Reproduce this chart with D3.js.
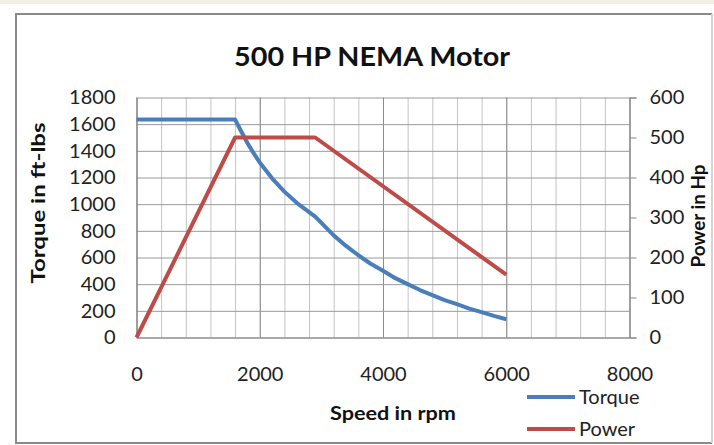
<!DOCTYPE html>
<html>
<head>
<meta charset="utf-8">
<script src="https://cdn.jsdelivr.net/npm/d3@7"></script>
<style>
  body { margin: 0; background: #fff; }
  svg { display: block; font-family: Lato, "Open Sans", sans-serif; }
</style>
</head>
<body>
<svg id="chart" width="714" height="445"></svg>
<script>
// data
const torqueSpeed = [0, 1600, 1700, 1800, 1900, 2000, 2200, 2400, 2600, 2900, 3200, 3400, 3600, 3800, 4000, 4200, 4400, 4600, 4800, 5000, 5200, 5400, 5600, 5800, 6000];
const torqueVals  = [1635, 1635, 1545, 1459, 1382, 1313, 1194, 1094, 1010, 906, 766, 687, 617, 553, 500, 445, 400, 356, 318, 281, 250, 217, 190, 162, 137];
const powerSpeed  = [0, 1600, 2900, 6000];
const powerVals   = [0, 500, 500, 157];

const speedTicks  = [0, 2000, 4000, 6000, 8000];
const minorSpeed  = d3.range(0, 8001, 400);
const torqueTicks = [0, 200, 400, 600, 800, 1000, 1200, 1400, 1600, 1800];
const powerTicks  = [0, 100, 200, 300, 400, 500, 600];

const svg = d3.select("#chart");
const fmt = d3.format("d");

// page strip + chart frame
svg.append("rect").attr("x", 0).attr("y", 0).attr("width", 714).attr("height", 4).attr("fill", "#f2efe7");
svg.append("path").attr("d", "M712,14H16V443H712").attr("fill", "none").attr("stroke", "#8a8a8a").attr("stroke-width", 2);
svg.append("line").attr("x1", 712).attr("x2", 712).attr("y1", 14).attr("y2", 443).attr("stroke", "#d4d4d4").attr("stroke-width", 2);

const plotL = 136.5, plotR = 629.5, plotT = 97.5, plotB = 337.5;

const x  = d3.scaleLinear().domain([0, 8000]).range([plotL, plotR]);
const yT = d3.scaleLinear().domain([0, 1800]).range([plotB, plotT]);
const yP = d3.scaleLinear().domain([0, 600]).range([plotB, plotT]);

// minor vertical grid
svg.append("g")
    .attr("transform", "translate(0," + plotB + ")")
    .call(d3.axisBottom(x).tickValues(minorSpeed).tickSize(-(plotB - plotT)).tickFormat(""))
    .call(g => g.select(".domain").remove())
    .call(g => g.selectAll("line").attr("stroke", "#c4c4c4"));

// major vertical grid
svg.append("g")
    .attr("transform", "translate(0," + plotB + ")")
    .call(d3.axisBottom(x).tickValues(speedTicks).tickSize(-(plotB - plotT)).tickFormat(""))
    .call(g => g.select(".domain").remove())
    .call(g => g.selectAll("line").attr("stroke", "#8c8c8c"));

// horizontal grid
svg.append("g")
    .attr("transform", "translate(" + plotL + ",0)")
    .call(d3.axisLeft(yT).tickValues(torqueTicks).tickSize(-(plotR - plotL)).tickFormat(""))
    .call(g => g.select(".domain").remove())
    .call(g => g.selectAll("line").attr("stroke", "#9a9a9a"));

// left axis
svg.append("g")
    .attr("transform", "translate(" + plotL + ",0)")
    .call(d3.axisLeft(yT).tickValues(torqueTicks).tickFormat(fmt).tickSize(0).tickPadding(21))
    .call(g => g.select(".domain").attr("stroke", "#868686"))
    .call(g => g.selectAll("text").attr("font-size", 20).attr("fill", "#222").attr("font-family", "Lato"));

// right axis
svg.append("g")
    .attr("transform", "translate(" + plotR + ",0)")
    .call(d3.axisRight(yP).tickValues(powerTicks).tickFormat(fmt).tickSize(7).tickPadding(13))
    .call(g => g.select(".domain").attr("stroke", "#868686"))
    .call(g => g.selectAll("line").attr("stroke", "#868686"))
    .call(g => g.selectAll("text").attr("font-size", 20).attr("fill", "#222").attr("font-family", "Lato"));

// bottom axis (labels sit well below the plot)
svg.append("g")
    .attr("transform", "translate(0," + plotB + ")")
    .call(d3.axisBottom(x).tickValues(speedTicks).tickFormat(fmt).tickSize(0).tickPadding(29))
    .call(g => g.select(".domain").attr("stroke", "#868686"))
    .call(g => g.selectAll("text").attr("font-size", 20).attr("fill", "#222").attr("font-family", "Lato"));

// lines
const torqueLine = d3.line()
    .x((d, i) => x(torqueSpeed[i]))
    .y(d => yT(d));

const powerLine = d3.line()
    .x((d, i) => x(powerSpeed[i]))
    .y(d => yP(d));

svg.append("path")
    .datum(torqueVals)
    .attr("d", torqueLine)
    .attr("fill", "none")
    .attr("stroke", "#4a7ebb")
    .attr("stroke-width", 4)
    .attr("stroke-linejoin", "round");

svg.append("path")
    .datum(powerVals)
    .attr("d", powerLine)
    .attr("fill", "none")
    .attr("stroke", "#be4b48")
    .attr("stroke-width", 4)
    .attr("stroke-linejoin", "round");

// titles
svg.append("text")
    .attr("x", 372).attr("y", 66)
    .attr("text-anchor", "middle")
    .attr("font-size", 27).attr("font-weight", "bold").attr("fill", "#111")
    .attr("textLength", 276).attr("lengthAdjust", "spacingAndGlyphs")
    .text("500 HP NEMA Motor");

svg.append("text")
    .attr("x", 393).attr("y", 420)
    .attr("text-anchor", "middle")
    .attr("font-size", 19).attr("font-weight", "bold").attr("fill", "#111")
    .attr("textLength", 126).attr("lengthAdjust", "spacingAndGlyphs")
    .text("Speed in rpm");

svg.append("text")
    .attr("transform", "translate(45,203) rotate(-90)")
    .attr("text-anchor", "middle")
    .attr("font-size", 19).attr("font-weight", "bold").attr("fill", "#111")
    .attr("textLength", 161).attr("lengthAdjust", "spacingAndGlyphs")
    .text("Torque in ft-lbs");

svg.append("text")
    .attr("transform", "translate(705,216) rotate(-90)")
    .attr("text-anchor", "middle")
    .attr("font-size", 19).attr("font-weight", "bold").attr("fill", "#111")
    .attr("textLength", 103).attr("lengthAdjust", "spacingAndGlyphs")
    .text("Power in Hp");

// legend
const legend = [
  {name: "Torque", color: "#4a7ebb", y: 397},
  {name: "Power",  color: "#be4b48", y: 429}
];

const lg = svg.append("g").selectAll("g")
    .data(legend)
    .enter()
    .append("g");

lg.append("line")
    .attr("x1", 527).attr("x2", 575)
    .attr("y1", d => d.y).attr("y2", d => d.y)
    .attr("stroke", d => d.color)
    .attr("stroke-width", 4);

lg.append("text")
    .attr("x", 579).attr("y", d => d.y + 7)
    .attr("font-size", 20).attr("fill", "#222")
    .text(d => d.name);
</script>
</body>
</html>
